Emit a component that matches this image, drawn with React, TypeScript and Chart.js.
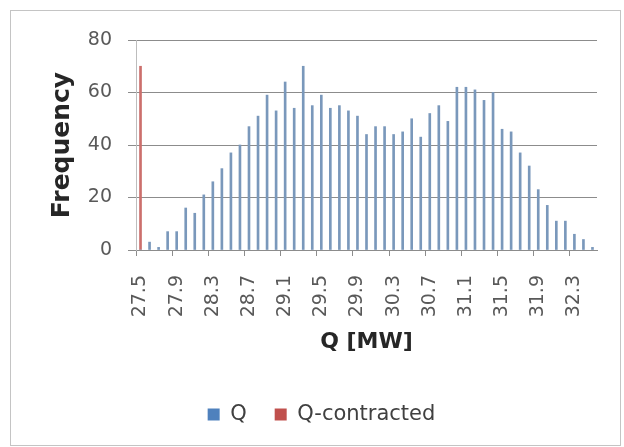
import React, { useEffect, useRef } from "react";
import { Chart, registerables } from "chart.js";

Chart.register(...registerables);

const categories = [
  "27.5", "27.6", "27.7", "27.8", "27.9",
  "28.0", "28.1", "28.2", "28.3", "28.4", "28.5", "28.6", "28.7", "28.8", "28.9",
  "29.0", "29.1", "29.2", "29.3", "29.4", "29.5", "29.6", "29.7", "29.8", "29.9",
  "30.0", "30.1", "30.2", "30.3", "30.4", "30.5", "30.6", "30.7", "30.8", "30.9",
  "31.0", "31.1", "31.2", "31.3", "31.4", "31.5", "31.6", "31.7", "31.8", "31.9",
  "32.0", "32.1", "32.2", "32.3", "32.4", "32.5",
];

const qValues = [
  0, 3, 1, 7, 7,
  16, 14, 21, 26, 31, 37, 40, 47, 51, 59,
  53, 64, 54, 70, 55, 59, 54, 55, 53, 51,
  44, 47, 47, 44, 45, 50, 43, 52, 55, 49,
  62, 62, 61, 57, 60, 46, 45, 37, 32, 23,
  17, 11, 11, 6, 4, 1,
];

const contractedCategories = ["27.5"];
const contractedValues = [70];

const yTicks = [0, 20, 40, 60, 80];
const seriesNames = ["Q", "Q-contracted"];
const legendColors = ["#4f81bd", "#c0504d"];
const barColors = ["#7a98bb", "#cc6f6c"];

const FONT = "'DejaVu Sans', sans-serif";

export default function App() {
  const canvasRef = useRef<HTMLCanvasElement | null>(null);

  useEffect(() => {
    if (!canvasRef.current) return;
    const chart = new Chart(canvasRef.current, {
      type: "bar",
      data: {
        labels: categories,
        datasets: [
          {
            label: seriesNames[0],
            data: qValues,
            backgroundColor: barColors[0],
            borderWidth: 0,
            barThickness: 2,
            grouped: false,
          } as any,
          {
            label: seriesNames[1],
            data: contractedCategories.map((c, i) => ({ x: c, y: contractedValues[i] })),
            backgroundColor: barColors[1],
            borderWidth: 0,
            barThickness: 2,
            grouped: false,
          } as any,
        ],
      },
      options: {
        responsive: false,
        animation: false,
        layout: { padding: { left: 46, right: 27, top: 40, bottom: 12 } },
        plugins: {
          tooltip: { enabled: false },
          legend: {
            position: "bottom",
            labels: {
              boxWidth: 12,
              boxHeight: 12,
              padding: 28,
              color: "#404040",
              font: { family: FONT, size: 21 },
              generateLabels: (chart: any) => {
                const items = (Chart.defaults as any).plugins.legend.labels.generateLabels(chart);
                items.forEach((it: any, i: number) => {
                  it.fillStyle = legendColors[i];
                  it.strokeStyle = legendColors[i];
                  it.lineWidth = 0;
                });
                return items;
              },
            },
          },
        },
        scales: {
          x: {
            offset: true,
            grid: {
              display: true,
              drawOnChartArea: false,
              offset: true,
              tickLength: 6,
              color: (ctx: any) => (ctx.index % 4 === 0 ? "#8c8c8c" : "rgba(0,0,0,0)"),
            },
            border: { display: true, color: "#8c8c8c" },
            ticks: {
              autoSkip: false,
              minRotation: 90,
              maxRotation: 90,
              padding: 19,
              color: "#595959",
              font: { family: FONT, size: 19 },
              callback: (_v: any, i: number) => (i % 4 === 0 ? categories[i] : ""),
            },
            title: {
              display: true,
              text: "Q [MW]",
              color: "#262626",
              font: { family: FONT, size: 22, weight: "bold" },
              padding: { top: 0, bottom: 21 },
            },
            afterFit: (s: any) => {
              s.height = 126;
              s.paddingLeft = 0;
              s.paddingRight = 0;
            },
          },
          y: {
            min: 0,
            max: 80,
            afterBuildTicks: (s: any) => {
              s.ticks = yTicks.map((v) => ({ value: v }));
            },
            ticks: {
              padding: 16,
              color: "#595959",
              font: { family: FONT, size: 19 },
            },
            grid: { color: "#8c8c8c", tickLength: 8 },
            border: { display: true, color: "#bdbdbd" },
            title: {
              display: true,
              text: "Frequency",
              color: "#262626",
              font: { family: FONT, size: 25, weight: "bold" },
              padding: { top: 1, bottom: 0 },
            },
            afterFit: (s: any) => {
              s.width = 90;
              s.paddingTop = 0;
              s.paddingBottom = 0;
            },
          },
        },
      } as any,
    });
    return () => chart.destroy();
  }, []);

  return (
    <div style={{ position: "absolute", left: 0, top: 0, width: 624, height: 447, background: "#fff" }}>
      <canvas ref={canvasRef} width={624} height={447} style={{ display: "block" }} />
      <div
        style={{
          position: "absolute",
          left: 10,
          top: 10,
          width: 609,
          height: 434,
          border: "1px solid #c4c4c4",
          pointerEvents: "none",
        }}
      />
    </div>
  );
}
